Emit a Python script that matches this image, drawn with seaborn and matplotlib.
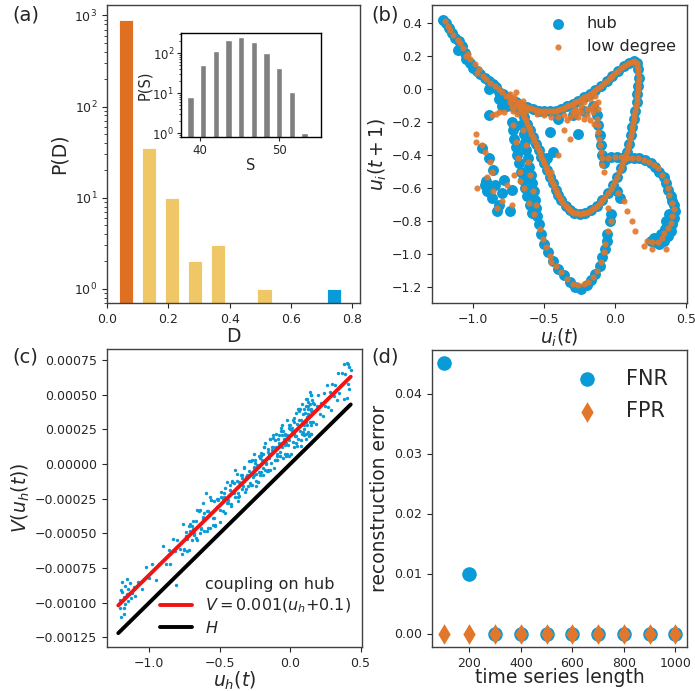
import numpy as np
import matplotlib
matplotlib.use("Agg")
import matplotlib.pyplot as plt
import seaborn as sns

# ---------------- data ----------------
# (a) histogram of D
D_centers = [0.061, 0.137, 0.211, 0.286, 0.362, 0.513, 0.740]
D_counts = [900, 35, 10, 2, 3, 1, 1]
D_group = ["low", "mid", "mid", "mid", "mid", "mid", "hub"]
# inset histogram of S
S_centers = [38.8, 40.4, 42.0, 43.6, 45.2, 46.8, 48.4, 50.0, 51.6, 53.2]
S_counts = [8, 50, 115, 220, 260, 190, 100, 42, 11, 1]

# (b) return map, hub trajectory
hub_band = [(-1.21, 0.42), (-1.19, 0.40), (-1.17, 0.37), (-1.15, 0.34), (-1.13, 0.31), (-1.10, 0.29),
            (-1.08, 0.26), (-1.11, 0.24), (-1.06, 0.22), (-1.05, 0.18), (-1.02, 0.16), (-1.00, 0.13),
            (-0.97, 0.11), (-0.95, 0.09), (-0.92, 0.07), (-0.89, 0.05), (-0.86, 0.03), (-0.89, 0.00),
            (-0.84, 0.01), (-0.82, -0.02), (-0.79, -0.03), (-0.76, -0.05), (-0.80, -0.07), (-0.73, -0.07),
            (-0.76, -0.10), (-0.71, -0.11), (-0.68, -0.12), (-0.65, -0.13), (-0.82, -0.06), (-0.89, -0.16),
            (-0.80, -0.10)]
loop_upper = [(-0.70, -0.08), (-0.66, -0.10), (-0.62, -0.11), (-0.58, -0.12), (-0.54, -0.13), (-0.50, -0.135),
              (-0.46, -0.135), (-0.42, -0.13), (-0.38, -0.12), (-0.34, -0.105), (-0.30, -0.09), (-0.26, -0.07),
              (-0.22, -0.05), (-0.18, -0.03), (-0.14, -0.005), (-0.10, 0.02), (-0.06, 0.05), (-0.02, 0.08),
              (0.02, 0.11), (0.06, 0.14), (0.10, 0.16), (0.13, 0.17)]
loop_right = [(0.15, 0.16), (0.16, 0.12), (0.165, 0.07), (0.16, 0.02), (0.155, -0.03), (0.15, -0.08),
              (0.14, -0.13), (0.13, -0.18), (0.12, -0.23), (0.11, -0.28), (0.095, -0.33), (0.08, -0.38),
              (0.06, -0.43), (0.04, -0.48), (0.015, -0.53), (-0.015, -0.58), (-0.05, -0.63), (-0.09, -0.675),
              (-0.13, -0.71), (-0.17, -0.735), (-0.21, -0.75), (-0.25, -0.755), (-0.29, -0.75), (-0.32, -0.735)]
loop_left = [(-0.35, -0.71), (-0.38, -0.675), (-0.40, -0.645), (-0.42, -0.61), (-0.44, -0.57), (-0.46, -0.53),
             (-0.48, -0.49), (-0.50, -0.45), (-0.52, -0.41), (-0.54, -0.37), (-0.56, -0.33), (-0.58, -0.29),
             (-0.60, -0.25), (-0.62, -0.21), (-0.64, -0.17), (-0.66, -0.13)]
hub_inner = [(-0.30, -0.16), (-0.22, -0.13), (-0.16, -0.10), (-0.13, -0.16), (-0.12, -0.22), (-0.11, -0.28),
             (-0.10, -0.34), (-0.09, -0.40), (-0.08, -0.45), (-0.40, -0.18), (-0.46, -0.26), (-0.44, -0.38),
             (-0.48, -0.42), (-0.26, -0.27)]
hub_strands = [(-0.73, -0.20), (-0.72, -0.25), (-0.71, -0.30), (-0.70, -0.35), (-0.69, -0.40), (-0.68, -0.45),
               (-0.665, -0.50), (-0.65, -0.55), (-0.635, -0.60), (-0.62, -0.65), (-0.60, -0.70), (-0.585, -0.75),
               (-0.66, -0.22), (-0.645, -0.27), (-0.635, -0.32), (-0.625, -0.37), (-0.615, -0.42), (-0.605, -0.47),
               (-0.595, -0.52), (-0.585, -0.57), (-0.575, -0.62), (-0.565, -0.67), (-0.555, -0.72), (-0.55, -0.77)]
hub_lower = [(-0.54, -0.82), (-0.52, -0.88), (-0.50, -0.94), (-0.47, -0.99), (-0.44, -1.04), (-0.40, -1.09),
             (-0.36, -1.13), (-0.32, -1.17), (-0.28, -1.20), (-0.24, -1.21), (-0.20, -1.19), (-0.17, -1.16),
             (-0.14, -1.12), (-0.11, -1.07), (-0.09, -1.02), (-0.07, -0.97), (-0.06, -0.92), (-0.055, -0.88),
             (-0.04, -0.80), (-0.03, -0.76), (0.01, -0.62), (0.03, -0.66)]
hub_right = [(-0.07, -0.42), (-0.03, -0.41), (0.01, -0.41), (0.05, -0.415), (0.09, -0.42), (0.13, -0.42),
             (0.17, -0.42), (0.21, -0.43), (0.25, -0.45), (0.28, -0.47), (0.31, -0.50), (0.34, -0.53),
             (0.36, -0.57), (0.37, -0.61), (0.39, -0.65), (0.41, -0.70), (0.42, -0.74), (0.41, -0.78),
             (0.40, -0.82), (0.39, -0.86), (0.37, -0.89), (0.34, -0.92), (0.31, -0.94), (0.28, -0.93),
             (0.27, -0.90), (0.36, -0.80), (0.38, -0.76), (0.35, -0.85), (0.32, -0.88), (0.40, -0.68),
             (0.30, -0.90), (0.25, -0.92)]
hub_cluster = [(-0.94, -0.36), (-0.89, -0.42), (-0.86, -0.49), (-0.91, -0.56), (-0.90, -0.62), (-0.87, -0.66),
               (-0.82, -0.70), (-0.78, -0.55), (-0.73, -0.61), (-0.83, -0.74), (-0.74, -0.74), (-0.80, -0.63),
               (-0.85, -0.58), (-0.92, -0.58)]

# (b) return map, low-degree node trajectory
low_band = [(-1.20, 0.41), (-1.18, 0.38), (-1.16, 0.36), (-1.14, 0.33), (-1.11, 0.30), (-1.09, 0.28),
            (-1.07, 0.25), (-1.04, 0.21), (-1.02, 0.18), (-0.99, 0.15), (-0.96, 0.12), (-0.93, 0.08),
            (-0.91, 0.06), (-0.88, 0.04), (-0.85, 0.02), (-0.82, 0.00), (-0.80, -0.02), (-0.77, -0.04),
            (-0.75, -0.05), (-0.74, -0.08), (-0.72, -0.06), (-0.70, -0.10), (-0.72, -0.13), (-0.69, -0.15),
            (-0.78, -0.14), (-0.84, -0.15), (-0.87, -0.16), (-0.82, -0.14), (-1.05, 0.20), (-0.97, 0.10),
            (-0.74, -0.03), (-0.71, -0.05), (-0.68, -0.08), (-0.73, -0.11), (-0.66, -0.11), (-0.63, -0.13),
            (-0.70, -0.02), (-0.65, -0.07)]
low_loop = [(-0.68, -0.09), (-0.64, -0.105), (-0.60, -0.115), (-0.56, -0.125), (-0.52, -0.133), (-0.48, -0.135),
            (-0.44, -0.133), (-0.40, -0.125), (-0.36, -0.113), (-0.32, -0.098), (-0.28, -0.08), (-0.24, -0.06),
            (-0.20, -0.04), (-0.16, -0.018), (-0.12, 0.008), (-0.08, 0.035), (-0.04, 0.065), (0.0, 0.095),
            (0.04, 0.125), (0.08, 0.15), (0.115, 0.167), (0.155, 0.14), (0.163, 0.095), (0.163, 0.045),
            (0.158, -0.005), (0.153, -0.055), (0.145, -0.105), (0.135, -0.155), (0.125, -0.205), (0.115, -0.255),
            (0.103, -0.305), (0.088, -0.355), (0.07, -0.405), (0.05, -0.455), (0.028, -0.505), (0.0, -0.555),
            (-0.033, -0.605), (-0.07, -0.653), (-0.11, -0.693), (-0.15, -0.723), (-0.19, -0.743), (-0.23, -0.753),
            (-0.27, -0.753), (-0.305, -0.743), (-0.335, -0.723), (-0.365, -0.693), (-0.39, -0.66), (-0.41, -0.628),
            (-0.43, -0.59), (-0.45, -0.55), (-0.47, -0.51), (-0.49, -0.47), (-0.51, -0.43), (-0.53, -0.39),
            (-0.55, -0.35), (-0.57, -0.31), (-0.59, -0.27), (-0.61, -0.23), (-0.63, -0.19), (-0.65, -0.15),
            (-0.67, -0.115)]
low_inner = [(-0.13, -0.18), (-0.125, -0.22), (-0.12, -0.26), (-0.115, -0.30), (-0.11, -0.34), (-0.10, -0.38),
             (-0.095, -0.42), (-0.09, -0.46), (-0.08, -0.50), (-0.40, -0.17), (-0.36, -0.16), (-0.32, -0.17),
             (-0.28, -0.16), (-0.24, -0.14), (-0.20, -0.12), (-0.16, -0.10), (-0.12, -0.08), (-0.20, -0.16),
             (-0.16, -0.14), (-0.12, -0.12), (-0.24, -0.10), (-0.28, -0.12), (-0.50, -0.16), (-0.55, -0.15),
             (-0.45, -0.17), (-0.36, -0.25), (-0.32, -0.30), (-0.45, -0.50), (-0.40, -0.40),
             (-0.18, -0.06), (-0.14, -0.04), (-0.22, -0.08), (-0.26, -0.13), (-0.18, -0.12), (-0.14, -0.09),
             (-0.22, -0.18), (-0.18, -0.19), (-0.15, -0.21), (-0.30, -0.14), (-0.34, -0.19), (-0.26, -0.17)]
low_cluster = [(-0.98, -0.27), (-0.98, -0.32), (-0.94, -0.34), (-0.92, -0.38), (-0.88, -0.44), (-0.87, -0.50),
               (-0.97, -0.60), (-0.90, -0.53), (-0.86, -0.62), (-0.80, -0.68), (-0.73, -0.70), (-0.67, -0.56),
               (-0.76, -0.58), (-0.83, -0.72), (-0.71, -0.52)]
low_strands = [(-0.72, -0.22), (-0.70, -0.32), (-0.685, -0.42), (-0.67, -0.50), (-0.64, -0.60), (-0.61, -0.69),
               (-0.65, -0.25), (-0.63, -0.34), (-0.615, -0.44), (-0.60, -0.52), (-0.58, -0.62), (-0.56, -0.70),
               (-0.57, -0.76)]
low_lower = [(-0.53, -0.85), (-0.51, -0.91), (-0.49, -0.96), (-0.46, -1.01), (-0.45, -1.05), (-0.42, -1.07),
             (-0.38, -1.11), (-0.34, -1.15), (-0.30, -1.18), (-0.26, -1.19), (-0.22, -1.18), (-0.19, -1.17),
             (-0.16, -1.14), (-0.13, -1.10), (-0.10, -1.05), (-0.08, -0.99), (-0.07, -0.94), (-0.05, -0.86),
             (-0.03, -0.80), (-0.05, -0.72), (0.02, -0.63), (0.06, -0.68)]
low_right = [(-0.05, -0.42), (0.0, -0.41), (0.04, -0.41), (0.08, -0.42), (0.12, -0.42), (0.16, -0.42),
             (0.20, -0.43), (0.24, -0.44), (0.27, -0.46), (0.30, -0.48), (0.33, -0.52), (0.36, -0.56),
             (0.37, -0.60), (0.38, -0.64), (0.40, -0.69), (0.41, -0.73), (0.40, -0.77), (0.39, -0.81),
             (0.37, -0.84), (0.34, -0.87), (0.33, -0.90), (0.30, -0.93), (0.26, -0.93), (0.22, -0.92),
             (0.20, -0.95), (0.14, -0.86), (0.26, -0.97), (0.36, -0.97), (0.08, -0.74), (0.12, -0.80)]

# (c) coupling function on hub: u_h and V (V in units of 1e-5)
c_u_left = [-1.21, -1.20, -1.19, -1.19, -1.18, -1.18, -1.17, -1.17, -1.16, -1.16, -1.15, -1.15, -1.14, -1.13,
            -1.12, -1.11, -1.10, -1.21, -1.20, -1.18]
c_v_left = [-98, -110, -92, -85, -104, -96, -88, -101, -83, -94, -99, -90, -86, -97, -93, -89, -95, -104, -91, -108]
c_u_mid1 = [-1.08, -1.05, -1.02, -1.0, -0.98, -0.95, -0.93, -0.9, -0.88, -0.86, -0.85, -0.83, -0.82, -0.8,
            -0.78, -0.76, -0.75, -0.74, -0.73, -0.72, -0.71, -0.7, -0.69, -0.68, -0.67, -0.66, -0.65, -0.64,
            -0.63, -0.62, -0.61, -0.6, -0.73, -0.7, -0.68, -0.66, -0.64, -0.62]
c_v_mid1 = [-85, -90, -74, -82, -72, -84, -72, -59, -72, -62, -72, -54, -63, -55, -61, -43, -61, -52, -63, -45,
            -48, -55, -41, -50, -41, -55, -44, -33, -47, -38, -48, -21, -54, -45, -51, -33, -50, -40]
c_u_mid2 = [-0.59, -0.58, -0.57, -0.56, -0.55, -0.54, -0.53, -0.52, -0.51, -0.50, -0.49, -0.48, -0.47, -0.46,
            -0.45, -0.44, -0.43, -0.42, -0.41, -0.40, -0.39, -0.38, -0.37, -0.36, -0.35, -0.34, -0.33, -0.32,
            -0.31, -0.30, -0.57, -0.53, -0.49, -0.45, -0.41, -0.37, -0.33, -0.55, -0.47, -0.39]
c_v_mid2 = [-34, -46, -35, -26, -39, -27, -44, -31, -25, -33, -20, -34, -24, -35, -13, -26, -19, -29, -13, -21,
            -24, -12, -27, -13, -8, -18, -2, -20, -9, -16, -24, -45, -24, -28, -12, -24, -12, -44, -21, -4]
c_u_mid3 = [-0.75, -0.74, -0.72, -0.71, -0.69, -0.67, -0.65, -0.63, -0.61, -0.59, -0.58, -0.56, -0.54, -0.52,
            -0.50, -0.48, -0.46, -0.44, -0.42, -0.40, -0.38, -0.36, -0.355, -0.345, -0.77, -0.62, -0.57, -0.51,
            -0.43, -0.37]
c_v_mid3 = [-62, -49, -62, -43, -47, -53, -34, -46, -35, -48, -34, -26, -39, -25, -42, -25, -17, -28, -30, -14,
            -7, -23, -14, -10, -65, -28, -46, -26, -15, -21]
c_u_core1 = [-0.29, -0.28, -0.27, -0.26, -0.25, -0.24, -0.23, -0.22, -0.21, -0.20, -0.19, -0.18, -0.17, -0.16,
             -0.15, -0.14, -0.13, -0.12, -0.11, -0.10, -0.09, -0.08, -0.07, -0.06, -0.05, -0.04, -0.03, -0.02,
             -0.01, 0.00, 0.01, 0.02, 0.03, 0.04, 0.05, 0.06, 0.07, 0.08, 0.09, 0.10, 0.11, 0.12, 0.13, 0.14, 0.15]
c_v_core1 = [-5, -15, 3, -8, 1, -16, -2, 6, -6, 3, -8, 15, 0, 11, 4, -4, 12, 19, 3, 12, 3, 21, 9, 28, 4, 22,
             15, 21, 6, 28, 22, 16, 33, 15, 29, 38, 24, 13, 36, 25, 47, 34, 23, 43, 28]
c_u_core2 = [-0.285, -0.275, -0.265, -0.255, -0.245, -0.235, -0.225, -0.215, -0.205, -0.195, -0.185, -0.175,
             -0.165, -0.155, -0.145, -0.135, -0.125, -0.115, -0.105, -0.095, -0.085, -0.075, -0.065, -0.055,
             -0.045, -0.035, -0.025, -0.015, -0.005, 0.005, 0.015, 0.025, 0.035, 0.045, 0.055, 0.065, 0.075,
             0.085, 0.095, 0.105, 0.115, 0.125, 0.135, 0.145]
c_v_core2 = [-14, 2, -9, 7, -12, -1, -13, 4, 6, -3, 12, 2, -5, 9, 18, 1, 9, -3, 17, 7, 18, 6, 24, 12, 18, 7,
             32, 14, 28, 7, 24, 30, 20, 37, 18, 32, 17, 43, 28, 37, 22, 42, 20, 38]
c_u_core3 = [-0.25, -0.22, -0.19, -0.16, -0.13, -0.10, -0.07, -0.04, -0.01, 0.02, 0.05, 0.08, -0.24, -0.21,
             -0.18, -0.15, -0.12, -0.09, -0.06, -0.03, 0.0, 0.03, 0.06, 0.09, 0.10, 0.11, 0.12, 0.13, 0.14,
             0.15, 0.15, 0.15, 0.15, 0.16, 0.16, 0.14, 0.13, 0.12, 0.11]
c_v_core3 = [3, -6, 7, -5, 10, 22, 6, 21, 17, 32, 13, 32, -7, 8, -4, 7, 21, 3, 21, 6, 25, 22, 40, 23, 40, 18,
             28, 45, 30, 50, 22, 40, 15, 44, 30, 52, 36, 47, 30]
c_u_core4 = [-0.345, -0.335, -0.325, -0.315, -0.305, -0.295, -0.27, -0.26, -0.23, -0.20, -0.17, -0.14, -0.11,
             -0.08, -0.05, -0.02, 0.01, 0.04, 0.07, 0.10, 0.125, 0.135, 0.145, 0.155, 0.158, -0.255, -0.215,
             -0.185, -0.155, -0.125, -0.095, -0.065, -0.035, -0.005, 0.025, 0.055, 0.085, 0.115, 0.148, 0.152]
c_v_core4 = [-8, -16, -3, -18, -8, 2, -15, -2, -13, 7, 1, 18, 3, 15, 24, 7, 26, 20, 40, 21, 40, 21, 50, 30, 46,
             -3, -8, 12, -4, 12, 6, 26, 14, 26, 12, 40, 22, 42, 22, 38]
c_u_right = [0.17, 0.18, 0.19, 0.20, 0.21, 0.22, 0.23, 0.24, 0.25, 0.26, 0.27, 0.28, 0.29, 0.30, 0.31, 0.32,
             0.33, 0.34, 0.35, 0.36, 0.37, 0.38, 0.39, 0.40, 0.41, 0.42, 0.43, 0.40, 0.42, 0.41, 0.38]
c_v_right = [43, 29, 42, 50, 36, 44, 35, 51, 42, 57, 41, 52, 39, 58, 49, 57, 46, 66, 51, 57, 66, 47, 65, 73,
             58, 70, 68, 48, 54, 72, 72]
fit_u = [-1.22, 0.43]
fit_v = [-0.00102, 0.00063]
H_u = [-1.22, 0.43]
H_v = [-0.00122, 0.00043]

# (d) reconstruction error
ts_length = [100, 200, 300, 400, 500, 600, 700, 800, 900, 1000]
FNR = [0.045, 0.010, 0, 0, 0, 0, 0, 0, 0, 0]
FPR = [0, 0, 0, 0, 0, 0, 0, 0, 0, 0]

# ---------------- style ----------------
sns.set_style("ticks")
plt.rcParams["font.family"] = ["DejaVu Sans"]
plt.rcParams["axes.edgecolor"] = "0.25"
plt.rcParams["axes.linewidth"] = 1.0
plt.rcParams["xtick.color"] = "0.15"
plt.rcParams["ytick.color"] = "0.15"

BLUE = "#089BD7"
ORANGE = "#E2772B"
ORANGE_A = "#E07021"
YELLOW = "#F0C766"
TICK = 9
LAB = 13.5

fig = plt.figure(figsize=(6.95, 6.91), dpi=100)
axA = fig.add_axes([107 / 695, 1 - 303 / 691, 253 / 695, 298 / 691])
axB = fig.add_axes([432 / 695, 1 - 303 / 691, 255 / 695, 298 / 691])
axC = fig.add_axes([107 / 695, 1 - 647 / 691, 255 / 695, 298 / 691])
axD = fig.add_axes([432 / 695, 1 - 647 / 691, 255 / 695, 297 / 691])
axIn = fig.add_axes([181 / 695, 1 - 137 / 691, 140 / 695, 104 / 691])

# ---- (a)
col_map = {"low": ORANGE_A, "mid": YELLOW, "hub": BLUE}
axA.bar(D_centers, D_counts, width=0.047, color=[col_map[g] for g in D_group],
        edgecolor="white", linewidth=0.6)
axA.set_yscale("log")
axA.set_ylim(0.7, 1300)
axA.set_xlim(0, 0.825)
axA.set_xticks([0.0, 0.2, 0.4, 0.6, 0.8])
axA.set_yticks([1, 10, 100, 1000])
axA.tick_params(labelsize=TICK)
axA.set_xlabel("D", fontsize=LAB, labelpad=1)
axA.set_ylabel("P(D)", fontsize=LAB)

axIn.bar(S_centers, S_counts, width=0.8, color="#808080")
axIn.set_yscale("log")
axIn.set_ylim(0.8, 320)
axIn.set_xlim(37.6, 55.3)
axIn.set_xticks([40, 50])
axIn.set_yticks([1, 10, 100])
axIn.tick_params(labelsize=8.5, length=3, pad=2)
axIn.tick_params(which="minor", length=1.5)
axIn.set_xlabel("S", fontsize=10.5, labelpad=1)
axIn.set_ylabel("P(S)", fontsize=10.5, labelpad=0)
for s in axIn.spines.values():
    s.set_color("black")

# ---- (b)
hub = np.array(hub_band + loop_upper + loop_right + loop_left + hub_inner + hub_strands + hub_lower
               + hub_right + hub_cluster)
low = np.array(low_band + loop_upper + loop_right + loop_left + low_loop + low_inner + low_cluster
               + low_strands + low_lower + low_right)
sns.scatterplot(x=hub[:, 0], y=hub[:, 1], s=62, color=BLUE, linewidth=0, label="hub", ax=axB, zorder=2)
sns.scatterplot(x=low[:, 0], y=low[:, 1], s=20, color=ORANGE, linewidth=0, alpha=0.9, label="low degree",
                ax=axB, zorder=3)
axB.set_xlim(-1.29, 0.505)
axB.set_ylim(-1.297, 0.51)
axB.set_xticks([-1.0, -0.5, 0.0, 0.5])
axB.set_yticks([-1.2, -1.0, -0.8, -0.6, -0.4, -0.2, 0.0, 0.2, 0.4])
axB.tick_params(labelsize=TICK)
axB.set_xlabel(r"$u_i(t)$", fontsize=LAB, labelpad=1)
axB.set_ylabel(r"$u_i(t+1)$", fontsize=LAB, labelpad=2)
axB.legend(loc="upper right", frameon=False, fontsize=11.5, handletextpad=0.8, borderaxespad=0.3)

# ---- (c)
cu = np.array(c_u_left + c_u_mid1 + c_u_mid2 + c_u_mid3 + c_u_core1 + c_u_core2 + c_u_core3 + c_u_core4
              + c_u_right)
cv = np.array(c_v_left + c_v_mid1 + c_v_mid2 + c_v_mid3 + c_v_core1 + c_v_core2 + c_v_core3 + c_v_core4
              + c_v_right) * 1e-5
sns.scatterplot(x=cu, y=cv, s=6, color=BLUE, linewidth=0, label="coupling on hub", ax=axC, zorder=2)
sns.lineplot(x=fit_u, y=fit_v, color="#F01414", linewidth=2.8, label=r"$V=0.001(u_h$+0.1)", ax=axC, zorder=3)
sns.lineplot(x=H_u, y=H_v, color="black", linewidth=2.8, label=r"$H$", ax=axC, zorder=3)
axC.set_xlim(-1.30, 0.51)
axC.set_ylim(-0.00132, 0.00083)
axC.set_xticks([-1.0, -0.5, 0.0, 0.5])
axC.set_yticks([-0.00125, -0.001, -0.00075, -0.0005, -0.00025, 0.0, 0.00025, 0.0005, 0.00075])
axC.set_yticklabels(["\u22120.00125", "\u22120.00100", "\u22120.00075", "\u22120.00050", "\u22120.00025",
                     "0.00000", "0.00025", "0.00050", "0.00075"])
axC.tick_params(labelsize=TICK)
axC.set_xlabel(r"$u_h(t)$", fontsize=LAB, labelpad=0)
axC.set_ylabel(r"$V(u_h(t))$", fontsize=LAB, labelpad=2)
axC.legend(loc="lower right", frameon=False, fontsize=11.5, handlelength=2.0, handletextpad=0.8,
           borderaxespad=0.3, labelspacing=0.3)

# ---- (d)
sns.scatterplot(x=ts_length, y=FNR, s=110, color=BLUE, marker="o", linewidth=0, label="FNR", ax=axD, zorder=2)
sns.scatterplot(x=ts_length, y=FPR, s=110, color=ORANGE, marker="d", linewidth=0, label="FPR", ax=axD, zorder=3)
axD.set_xlim(55, 1045)
axD.set_ylim(-0.00225, 0.04725)
axD.set_xticks([200, 400, 600, 800, 1000])
axD.set_yticks([0.0, 0.01, 0.02, 0.03, 0.04])
axD.tick_params(labelsize=TICK)
axD.set_xlabel("time series length", fontsize=LAB, labelpad=-1)
axD.set_ylabel("reconstruction error", fontsize=LAB, labelpad=4)
axD.legend(loc="upper right", frameon=False, fontsize=15, handletextpad=0.9, borderaxespad=0.5,
           labelspacing=0.6)

for lab, x, y in [("(a)", 0.018, 0.992), ("(b)", 0.534, 0.992), ("(c)", 0.018, 0.497), ("(d)", 0.534, 0.497)]:
    fig.text(x, y, lab, fontsize=14, va="top", ha="left")

fig.savefig("out.png", dpi=100)
